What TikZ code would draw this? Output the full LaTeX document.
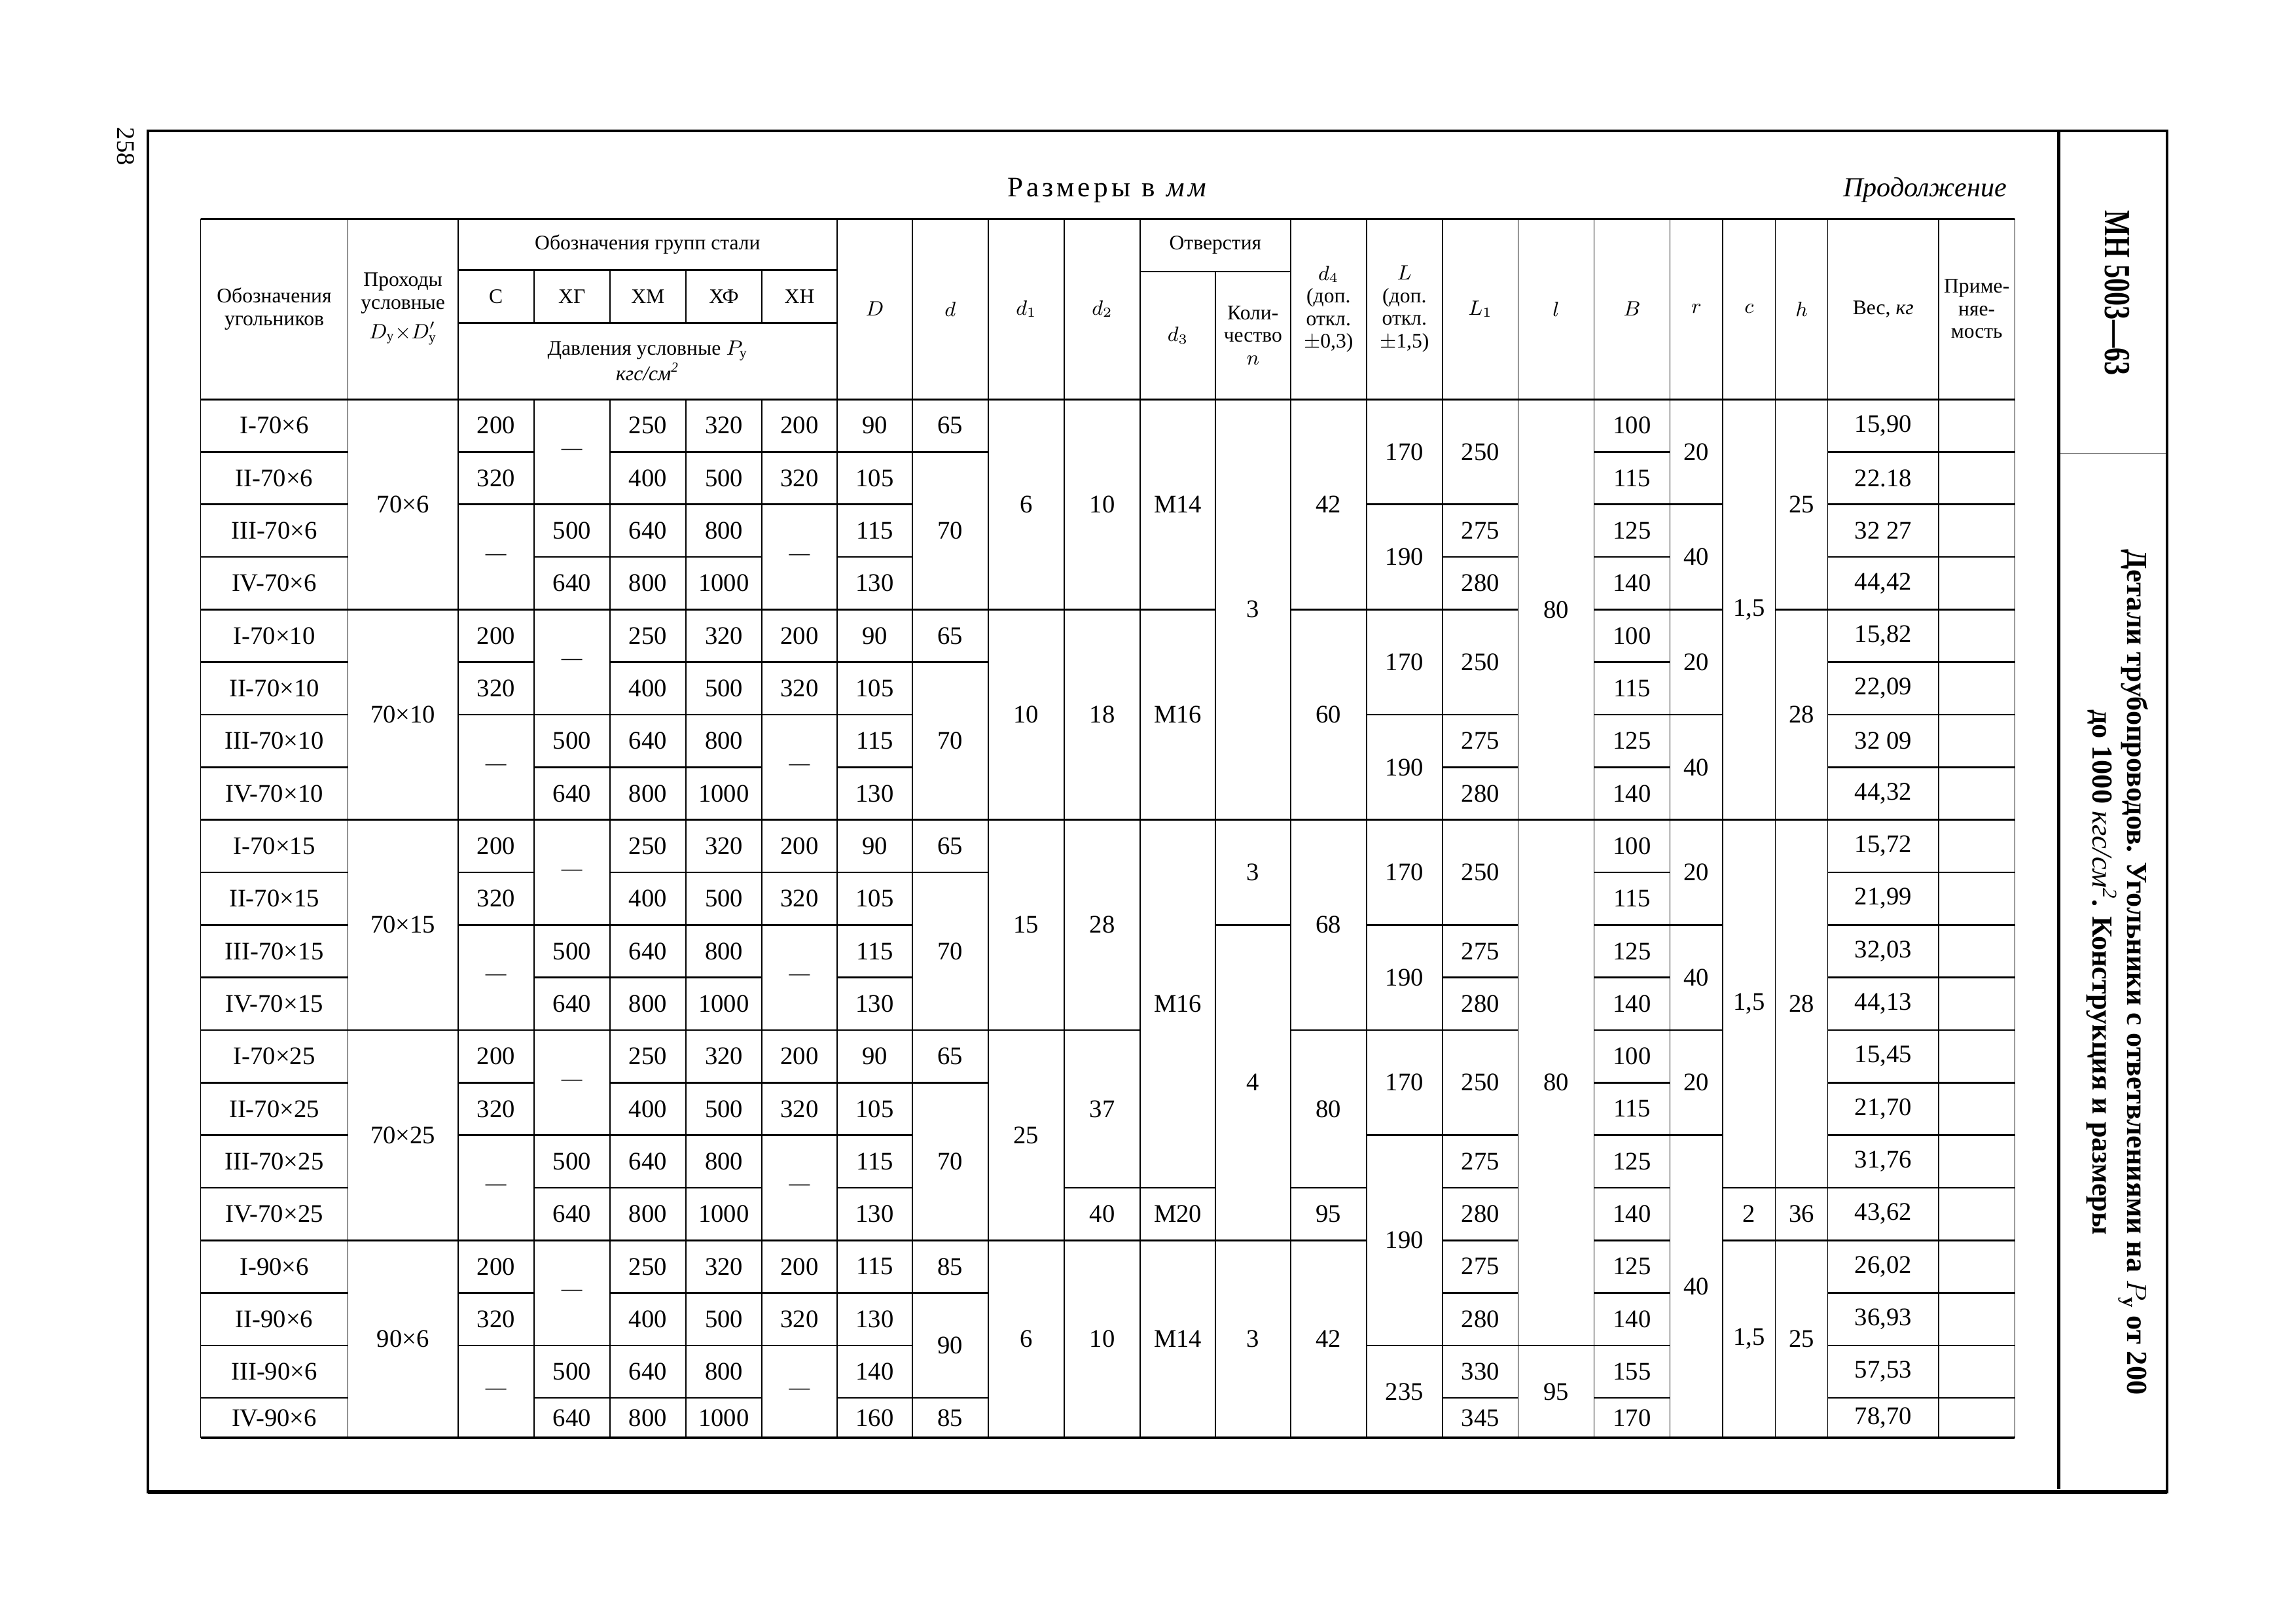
\documentclass[tikz,border=0pt]{standalone}
\usepackage{amsmath}
\usepackage{fontspec}
\setmainfont{Liberation Serif}

\def\colx{{137,237.6,312.8,364.6,416.5,468.4,520.3,571.7,623,674.9,726.8,778.7,830,881.3,933.2,985,1036.8,1088.6,1140.5,1176.5,1212.5,1248.2,1323.9,1376}}
\newcommand\dashcell{{\fontsize{9}{9}\selectfont —}}
\newcommand\suby{\text{у}}

\tikzset{
  vr/.style={line width=0.45pt},
  hr/.style={line width=0.75pt},
  br/.style={line width=0.9pt},
  fr/.style={line width=1.3pt},
  cellt/.style={inner sep=0pt, font=\fontsize{11}{12}\selectfont},
  headt/.style={inner sep=0pt, align=center, font=\fontsize{9}{9.8}\selectfont}
}

\newcommand\cel[4]{%
  \pgfmathsetmacro\xa{\colx[#1]}%
  \pgfmathsetmacro\xb{\colx[#1+1]}%
  \pgfmathtruncatemacro\rf{#2}%
  \pgfmathtruncatemacro\rl{#3}%
  \pgfmathsetmacro\ya{272.7+35.9*(\rf-1)}%
  \pgfmathsetmacro\yb{\rl==20 ? 982 : 272.7+35.9*\rl}%
  \node[cellt] (c#1r\rf) at ({(\xa+\xb)/2},{(\ya+\yb)/2}) {#4};%
  \ifnum\rl<20 \draw[hr] (\xa,\yb) -- (\xb,\yb);\fi}

\newcommand\hcel[6]{%
  \pgfmathsetmacro\xa{\colx[#2]}%
  \pgfmathsetmacro\xb{\colx[#3]}%
  \node[headt] (#1) at ({(\xa+\xb)/2},{(#4+#5)/2}) {#6};}

\begin{document}
\begin{tikzpicture}[x=0.22372mm, y=-0.22372mm]
\useasboundingbox (0,0) rectangle (1568,1108.5);

\coordinate (ftl) at (101,89.4);
\coordinate (ftr) at (1480,89.4);
\coordinate (fbr) at (1480,1019);
\coordinate (fbl) at (101,1019);
\coordinate (stt) at (1406,89.4);
\coordinate (stb) at (1406,1017);
\coordinate (sml) at (1406,310);
\coordinate (smr) at (1480,310);
\draw[fr] (ftl) -- (ftr) -- (fbr) -- (fbl) -- cycle;
\draw[line width=1.8pt] (fbl) -- (fbr);
\draw[fr] (stt) -- (stb);
\draw[vr] (sml) -- (smr);

\node[rotate=-90, font=\fontsize{11}{11}\selectfont] (pg) at (86,100) {258};
\node[rotate=-90, xscale=0.75, font=\fontsize{16}{16}\selectfont\bfseries] (std) at (1446,200) {МН 5003—63};
\node[rotate=-90, align=center, font=\fontsize{12.6}{12}\selectfont\bfseries] (ttl) at (1446,664)
  {Детали трубопроводов. Угольники с ответвлениями на $P_{\suby}$ от 200\\до 1000 \textit{\mdseries кгс/см\textsuperscript{2}}. Конструкция и размеры};

\node[font=\fontsize{12.3}{12}\selectfont\addfontfeatures{LetterSpace=12}] (dims) at (757,130) {Размеры\hspace{5pt}в\hspace{5pt}\textit{мм}};
\node[anchor=east, font=\fontsize{12}{12}\selectfont\itshape] (cont) at (1376,130) {Продолжение};

\draw[br] (137,149.4) -- (1376,149.4);
\draw[hr] (312.8,184.5) -- (571.7,184.5);
\draw[hr] (778.7,185.5) -- (881.3,185.5);
\draw[hr] (312.8,220.5) -- (571.7,220.5);
\draw[br] (137,272.7) -- (1376,272.7);
\draw[br] (137,982) -- (1376,982);
\foreach \k in {0,1,2,7,8,9,10,11,13,14,15,16,17,18,19,20,21,22,23}{
  \pgfmathsetmacro\xk{\colx[\k]}
  \draw[vr] (\xk,149.4) -- (\xk,272.7);}
\foreach \k in {3,...,6}{
  \pgfmathsetmacro\xk{\colx[\k]}
  \draw[vr] (\xk,184.5) -- (\xk,220.5);}
\pgfmathsetmacro\xk{\colx[12]}
\draw[vr] (\xk,185.5) -- (\xk,272.7);
\foreach \k in {0,...,23}{
  \pgfmathsetmacro\xk{\colx[\k]}
  \draw[vr] (\xk,272.7) -- (\xk,982);}

\hcel{h0}{0}{1}{149.4}{272.7}{Обозначения\\угольников}
\hcel{h1}{1}{2}{149.4}{272.7}{Проходы\\условные\\[3pt]$D_{\suby}{\times}D'_{\suby}$}
\hcel{hst}{2}{7}{149.4}{184.5}{Обозначения групп стали}
\hcel{hC}{2}{3}{184.5}{220.5}{С}
\hcel{hXG}{3}{4}{184.5}{220.5}{ХГ}
\hcel{hXM}{4}{5}{184.5}{220.5}{ХМ}
\hcel{hXF}{5}{6}{184.5}{220.5}{ХФ}
\hcel{hXN}{6}{7}{184.5}{220.5}{ХН}
\hcel{hP}{2}{7}{220.5}{272.7}{Давления условные $P_{\suby}$\\\textit{кгс/см\textsuperscript{2}}}
\hcel{hD}{7}{8}{149.4}{272.7}{$D$}
\hcel{hd}{8}{9}{149.4}{272.7}{$d$}
\hcel{hdi}{9}{10}{149.4}{272.7}{$d_1$}
\hcel{hdii}{10}{11}{149.4}{272.7}{$d_2$}
\hcel{hotv}{11}{13}{149.4}{185.5}{Отверстия}
\hcel{hdiii}{11}{12}{185.5}{272.7}{$d_3$}
\hcel{hn}{12}{13}{185.5}{272.7}{Коли-\\чество\\$n$}
\hcel{hdiv}{13}{14}{149.4}{272.7}{$d_4$\\(доп.\\откл.\\$\pm$0,3)}
\hcel{hL}{14}{15}{149.4}{272.7}{$L$\\(доп.\\откл.\\$\pm$1,5)}
\hcel{hLi}{15}{16}{149.4}{272.7}{$L_1$}
\hcel{hl}{16}{17}{149.4}{272.7}{$l$}
\hcel{hB}{17}{18}{149.4}{272.7}{$B$}
\hcel{hr}{18}{19}{149.4}{272.7}{$r$}
\hcel{hc}{19}{20}{149.4}{272.7}{$c$}
\hcel{hh}{20}{21}{149.4}{272.7}{$h$}
\hcel{hw}{21}{22}{149.4}{272.7}{Вес, \textit{кг}}
\hcel{hap}{22}{23}{149.4}{272.7}{Приме-\\няе-\\мость}

\foreach \g/\dy [count=\i from 0] in {70/6,70/10,70/15,70/25,90/6}{
  \pgfmathtruncatemacro\rA{4*\i+1}
  \pgfmathtruncatemacro\rB{4*\i+2}
  \pgfmathtruncatemacro\rC{4*\i+3}
  \pgfmathtruncatemacro\rD{4*\i+4}
  \cel{0}{\rA}{\rA}{I-\g×\dy}
  \cel{0}{\rB}{\rB}{II-\g×\dy}
  \cel{0}{\rC}{\rC}{III-\g×\dy}
  \cel{0}{\rD}{\rD}{IV-\g×\dy}
  \cel{1}{\rA}{\rD}{\g×\dy}
  \cel{2}{\rA}{\rA}{200}
  \cel{2}{\rB}{\rB}{320}
  \cel{2}{\rC}{\rD}{\dashcell}
  \cel{3}{\rA}{\rB}{\dashcell}
  \cel{3}{\rC}{\rC}{500}
  \cel{3}{\rD}{\rD}{640}
  \cel{4}{\rA}{\rA}{250}
  \cel{4}{\rB}{\rB}{400}
  \cel{4}{\rC}{\rC}{640}
  \cel{4}{\rD}{\rD}{800}
  \cel{5}{\rA}{\rA}{320}
  \cel{5}{\rB}{\rB}{500}
  \cel{5}{\rC}{\rC}{800}
  \cel{5}{\rD}{\rD}{1000}
  \cel{6}{\rA}{\rA}{200}
  \cel{6}{\rB}{\rB}{320}
  \cel{6}{\rC}{\rD}{\dashcell}
  \foreach \rr in {\rA,\rB,\rC,\rD}{\cel{22}{\rr}{\rr}{}}
}

\foreach \i in {0,...,3}{
  \pgfmathtruncatemacro\rA{4*\i+1}
  \pgfmathtruncatemacro\rB{4*\i+2}
  \pgfmathtruncatemacro\rC{4*\i+3}
  \pgfmathtruncatemacro\rD{4*\i+4}
  \cel{7}{\rA}{\rA}{90}
  \cel{7}{\rB}{\rB}{105}
  \cel{7}{\rC}{\rC}{115}
  \cel{7}{\rD}{\rD}{130}
  \cel{8}{\rA}{\rA}{65}
  \cel{8}{\rB}{\rD}{70}
  \cel{17}{\rA}{\rA}{100}
  \cel{17}{\rB}{\rB}{115}
  \cel{17}{\rC}{\rC}{125}
  \cel{17}{\rD}{\rD}{140}
}
\cel{7}{17}{17}{115}
\cel{7}{18}{18}{130}
\cel{7}{19}{19}{140}
\cel{7}{20}{20}{160}
\cel{8}{17}{17}{85}
\cel{8}{18}{19}{90}
\cel{8}{20}{20}{85}
\cel{17}{17}{17}{125}
\cel{17}{18}{18}{140}
\cel{17}{19}{19}{155}
\cel{17}{20}{20}{170}

\foreach \ia/\ib/\iv in {1/4/6,5/8/10,9/12/15,13/16/25,17/20/6}{\cel{9}{\ia}{\ib}{\iv}}
\foreach \ia/\ib/\iv in {1/4/10,5/8/18,9/12/28,13/15/37,16/16/40,17/20/10}{\cel{10}{\ia}{\ib}{\iv}}
\foreach \ia/\ib/\iv in {1/4/М14,5/8/М16,9/15/М16,16/16/М20,17/20/М14}{\cel{11}{\ia}{\ib}{\iv}}
\foreach \ia/\ib/\iv in {1/8/3,9/10/3,11/16/4,17/20/3}{\cel{12}{\ia}{\ib}{\iv}}
\foreach \ia/\ib/\iv in {1/4/42,5/8/60,9/12/68,13/15/80,16/16/95,17/20/42}{\cel{13}{\ia}{\ib}{\iv}}
\foreach \ia/\ib/\iv in {1/2/170,3/4/190,5/6/170,7/8/190,9/10/170,11/12/190,13/14/170,15/18/190,19/20/235}{\cel{14}{\ia}{\ib}{\iv}}
\foreach \ia/\ib/\iv in {1/2/250,3/3/275,4/4/280,5/6/250,7/7/275,8/8/280,9/10/250,11/11/275,12/12/280,13/14/250,15/15/275,16/16/280,17/17/275,18/18/280,19/19/330,20/20/345}{\cel{15}{\ia}{\ib}{\iv}}
\foreach \ia/\ib/\iv in {1/8/80,9/18/80,19/20/95}{\cel{16}{\ia}{\ib}{\iv}}
\foreach \ia/\ib/\iv in {1/2/20,3/4/40,5/6/20,7/8/40,9/10/20,11/12/40,13/14/20,15/20/40}{\cel{18}{\ia}{\ib}{\iv}}
\foreach \ia/\ib/\iv in {1/8/{1,5},9/15/{1,5},16/16/2,17/20/{1,5}}{\cel{19}{\ia}{\ib}{\iv}}
\foreach \ia/\ib/\iv in {1/4/25,5/8/28,9/15/28,16/16/36,17/20/25}{\cel{20}{\ia}{\ib}{\iv}}
\foreach \ia/\iv in {1/{15,90},2/22.18,3/32 27,4/{44,42},5/{15,82},6/{22,09},7/32 09,8/{44,32},9/{15,72},10/{21,99},11/{32,03},12/{44,13},13/{15,45},14/{21,70},15/{31,76},16/{43,62},17/{26,02},18/{36,93},19/{57,53},20/{78,70}}{\cel{21}{\ia}{\ia}{\iv}}
\end{tikzpicture}
\end{document}
